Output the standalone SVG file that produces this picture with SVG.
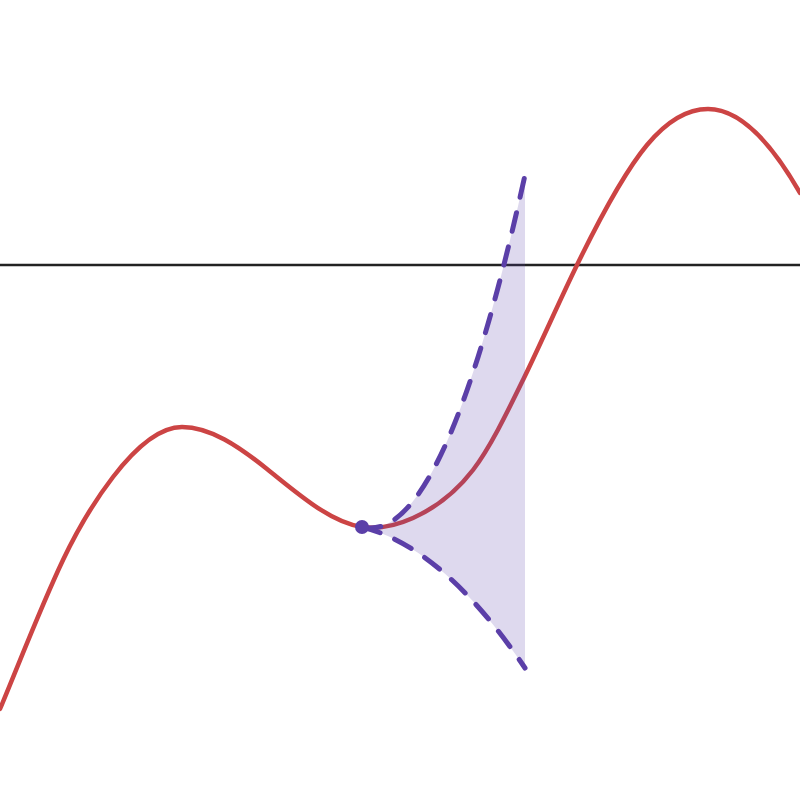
<svg xmlns="http://www.w3.org/2000/svg" width="800" height="800" viewBox="0 0 800 800">
<style>
.axis{stroke:#222;stroke-width:2.5;fill:none}
.curve{stroke:#cc4444;stroke-width:4.5;fill:none;stroke-linecap:round}
.bound{stroke:#5b3fa8;stroke-width:5;fill:none;stroke-linecap:round;stroke-dasharray:19 16}
.shade{fill:#5b3fa8;fill-opacity:0.2;stroke:none}
</style>
<rect width="800" height="800" fill="#fff"/>
<g id="axis"><line class="axis" x1="0" y1="265" x2="800" y2="265"/></g>
<g id="function">
<path class="curve" d="M0,709 C21,658.6 42,604.1 63,560 C79.67,525 96.33,498.67 113,477 C136,447.1 159,427 182,427 C210.33,427 238.67,446.33 267,469 C298.67,494.33 330.33,522.25 362,527 C379,529.55 396,525.65 413,518 C433,509 453,496 473,470 C489.67,448.33 506.33,414.17 523,380 C541,343.1 559,301.9 577,265 C600.33,217.17 623.67,173 647,145 C667.33,120.6 687.67,109 708,109 C738.67,109 769.33,139.33 800,193"/>
</g>
<g id="region">
<path class="shade" d="M362,527 Q443.5,547.4 525,175 L525,668 Q443.5,547.4 362,527 Z"/>
</g>
<g id="bounds">
<path class="bound" d="M362,527 Q443.5,547.4 525,175"/>
<path class="bound" d="M362,527 Q443.5,547.4 525,668"/>
</g>
<g id="point"><circle cx="362" cy="527" r="7" fill="#5b3fa8"/></g>
</svg>
